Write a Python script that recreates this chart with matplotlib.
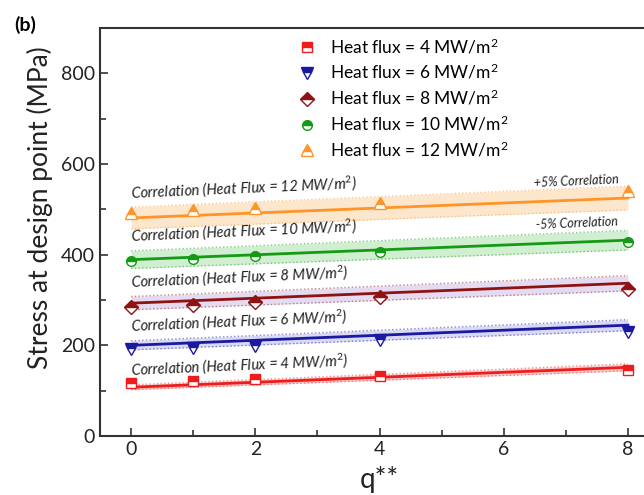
import numpy as np
import matplotlib
matplotlib.use("Agg")
import matplotlib.pyplot as plt
from matplotlib.ticker import MultipleLocator

plt.rcParams['font.family'] = ['Lato', 'DejaVu Sans']
plt.rcParams['mathtext.fontset'] = 'custom'
plt.rcParams['mathtext.rm'] = 'Lato'
plt.rcParams['mathtext.it'] = 'Lato:italic'

# data
q = [0, 1, 2, 4, 8]
heat_flux = [4, 6, 8, 10, 12]
stress_4 = [118, 121, 125, 133, 146]
stress_6 = [192, 194, 199, 211, 229]
stress_8 = [284, 290, 295, 306, 324]
stress_10 = [385, 390, 396, 406, 429]
stress_12 = [493, 498, 504, 515, 540]

# correlation line: value at q=0 and at q=8
corr_q = [0, 8]
corr_4 = [107.5, 151.5]
corr_6 = [200, 244.5]
corr_8 = [293, 337]
corr_10 = [389, 432]
corr_12 = [481, 525]

series = [
    (stress_4, corr_4, 's', '#EE1C1C', '#F7B5B5'),
    (stress_6, corr_6, 'v', '#1A1AA0', '#C9C9F0'),
    (stress_8, corr_8, 'D', '#8E1212', '#D9CCEC'),
    (stress_10, corr_10, 'o', '#159A15', '#BDE8BD'),
    (stress_12, corr_12, '^', '#FF9428', '#FCDDB9'),
]

fig = plt.figure(figsize=(6.44, 4.95), dpi=100)
ax = fig.add_axes([0.1553, 0.1192, 0.868, 0.8242])

for (vals, corr, mk, col, band), hf in zip(series, heat_flux):
    cq = np.array(corr_q, dtype=float)
    cv = np.array(corr, dtype=float)
    ax.fill_between(cq, cv * 0.95, cv * 1.05, color=band, alpha=0.7, lw=0, zorder=1)
    ax.plot(cq, cv * 1.05, ls=':', color=col, alpha=0.5, lw=1, zorder=2)
    ax.plot(cq, cv * 0.95, ls=':', color=col, alpha=0.5, lw=1, zorder=2)
    ax.plot(cq, cv, color=col, lw=2, zorder=3)
    ms = 7 if mk in ('s', 'o') else 8.5
    if mk == 'D':
        ms = 7.5
    ax.plot(q, vals, ls='none', marker=mk, ms=ms, color=col, fillstyle='top',
            markerfacecoloralt='white', mec=col, mew=1, zorder=4,
            label='Heat flux = %d MW/m$^2$' % hf)
    ax.text(0, cv[0] * 1.05 + 12, 'Correlation (Heat Flux = %d MW/m$^2$)' % hf,
            fontsize=10.5, style='italic', rotation=2.5, rotation_mode='anchor',
            ha='left', va='bottom', color='#222222', zorder=5)

ax.text(7.85, corr_12[1] * 1.05 + 2, '+5% Correlation', fontsize=9, style='italic',
        rotation=2.5, rotation_mode='anchor', ha='right', va='bottom', color='#222222')
ax.text(7.85, corr_10[1] * 1.05 + 6, '-5% Correlation', fontsize=9, style='italic',
        rotation=2.5, rotation_mode='anchor', ha='right', va='bottom', color='#222222')

ax.set_xlim(-0.5, 8.5)
ax.set_ylim(0, 900)
ax.xaxis.set_major_locator(MultipleLocator(2))
ax.xaxis.set_minor_locator(MultipleLocator(1))
ax.yaxis.set_major_locator(MultipleLocator(200))
ax.yaxis.set_minor_locator(MultipleLocator(100))
ax.tick_params(which='both', direction='in', width=1.2, labelsize=14,
               color='#333333', labelcolor='#222222')
ax.tick_params(which='major', length=6)
ax.tick_params(which='minor', length=4)
for s in ax.spines.values():
    s.set_linewidth(1.5)
    s.set_color('#333333')

ax.set_xlabel('q**', fontsize=20, labelpad=6, color='#222222')
ax.set_ylabel('Stress at design point (MPa)', fontsize=19, color='#222222')
ax.yaxis.set_label_coords(-0.084, 0.56)

leg = ax.legend(loc='upper left', bbox_to_anchor=(0.327, 1.017), frameon=False,
                fontsize=12.5, handlelength=1.0, handletextpad=0.8, labelspacing=0.37)

fig.text(0.022, 0.95, '(b)', fontsize=14, fontweight='bold', va='center', ha='left')

fig.savefig('out.png', dpi=100)
